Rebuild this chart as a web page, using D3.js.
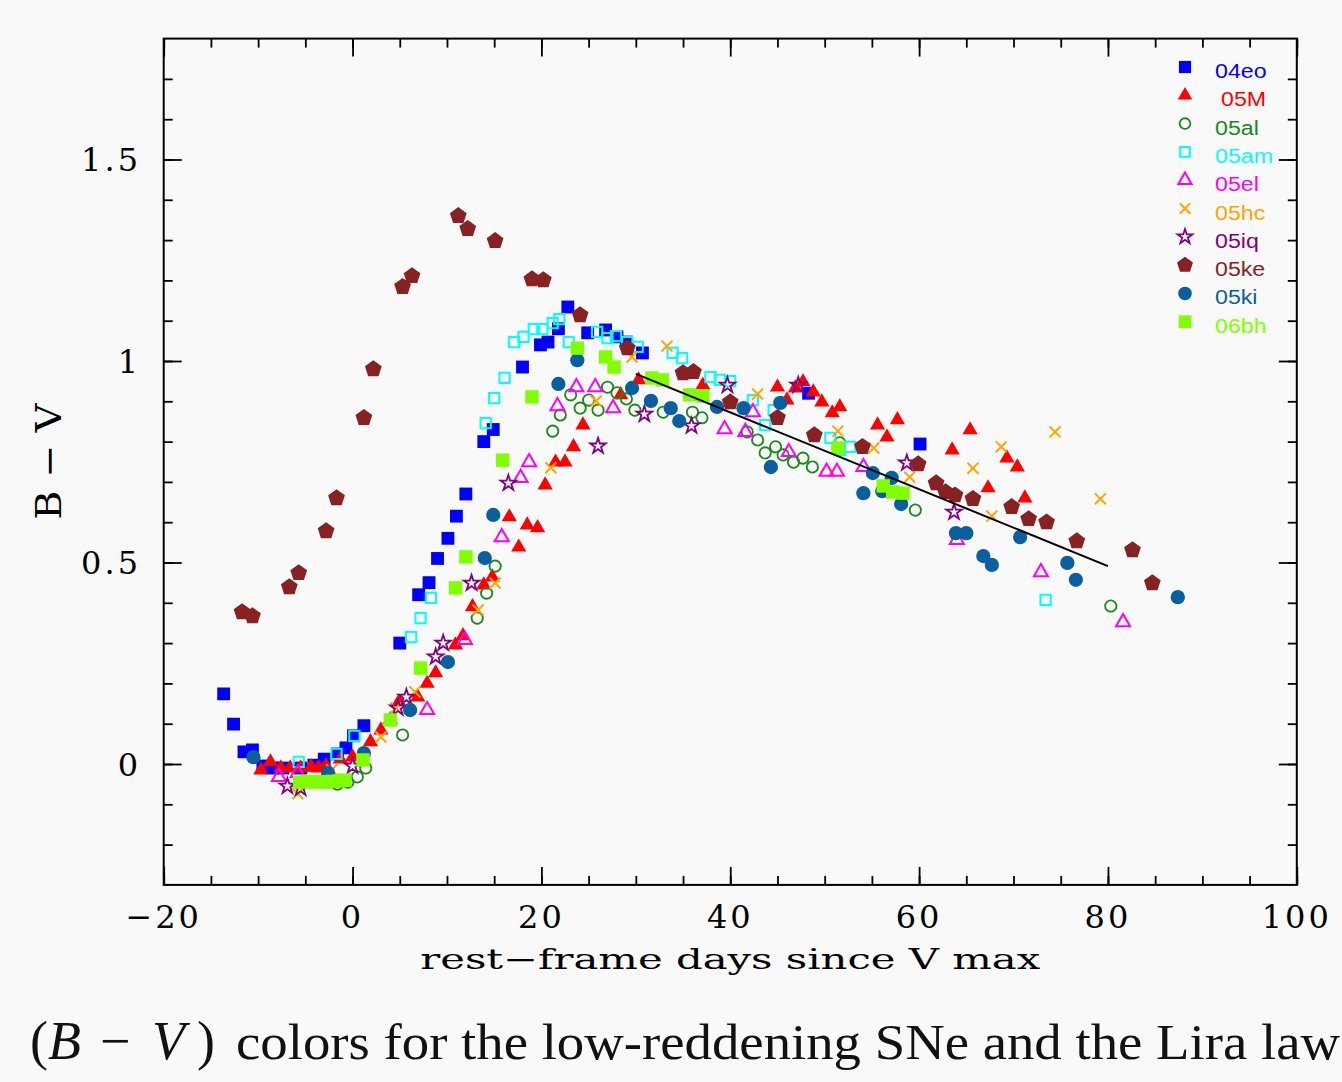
<!DOCTYPE html>
<html>
<head>
<meta charset="utf-8">
<script src="https://cdn.jsdelivr.net/npm/d3@7"></script>
<style>
  html, body { margin: 0; padding: 0; background: #f9f9f9; }
  svg { display: block; }
</style>
</head>
<body>
<svg id="chart" width="1342" height="1082"></svg>
<script>
// B - V colour curves, [rest-frame days since V max, B - V]
const sn04eo = [[-13.65,0.174],[-12.6,0.099],[-11.5,0.030],[-10.6,0.035],[-9.5,-0.005],[-8.5,-0.01],[-7.4,-0.01],
  [-5.5,-0.01],[-4.1,-0.003],[-3.0,0.012],[-1.6,0.025],[-0.7,0.04],[0.1,0.07],[1.2,0.095],[5.0,0.30],[7.0,0.42],
  [8.1,0.45],[9.0,0.51],[10.1,0.56],[11.0,0.615],[12.0,0.67],[13.9,0.80],[14.9,0.83],[18.0,0.985],[19.9,1.04],
  [20.7,1.047],[21.8,1.08],[22.8,1.134],[24.9,1.07],[26.8,1.077],[28.0,1.06],[29.0,1.047],[30.7,1.02],[48.3,0.92],[60.1,0.794]];
const sn05M = [[-9.7,-0.015],[-8.7,0.005],[-7.6,-0.01],[-6.6,-0.01],[-5.5,-0.01],[-4.4,-0.007],[-3.6,-0.01],[-2.8,-0.005],
  [-1.3,0.012],[0.0,0.017],[1.9,0.055],[3.0,0.084],[4.0,0.11],[4.9,0.154],[6.9,0.166],[7.9,0.20],[8.8,0.226],[10.9,0.295],
  [11.7,0.318],[12.7,0.39],[13.9,0.444],[14.8,0.464],[16.6,0.613],[17.6,0.538],[18.5,0.593],[19.6,0.586],[20.4,0.692],
  [21.5,0.749],[22.5,0.749],[23.4,0.787],[24.4,0.841],[28.4,0.916],[30.3,0.953],[37.1,0.94],[45.0,0.935],[46.0,0.903],
  [46.9,0.933],[47.7,0.948],[48.8,0.923],[49.7,0.898],[50.8,0.871],[51.6,0.886],[55.6,0.841],[56.6,0.811],[57.7,0.854],
  [63.5,0.779],[65.4,0.829],[67.3,0.685],[69.3,0.759],[70.4,0.737],[71.2,0.66]];
const sn05al = [[-1.6,-0.05],[-0.5,-0.045],[0.5,-0.032],[1.4,-0.01],[5.3,0.072],[13.2,0.362],[14.2,0.424],[15.1,0.491],
  [21.2,0.826],[22.0,0.866],[23.1,0.916],[24.1,0.883],[25.0,0.903],[26.0,0.878],[27.0,0.935],[28.0,0.921],[29.0,0.906],
  [29.9,0.878],[32.9,0.873],[36.0,0.873],[37.0,0.859],[41.8,0.824],[42.9,0.804],[43.7,0.772],[44.8,0.787],[45.6,0.767],
  [46.7,0.749],[47.7,0.759],[48.7,0.737],[51.6,0.797],[59.6,0.63],[80.3,0.392]];
const sn05am = [[-5.7,0.005],[-1.7,0.025],[0.2,0.07],[6.2,0.315],[7.2,0.362],[8.3,0.412],[14.1,0.846],[15.0,0.908],
  [16.1,0.958],[17.1,1.047],[18.1,1.06],[19.2,1.079],[20.1,1.079],[21.2,1.094],[21.9,1.104],[22.9,1.047],[25.9,1.072],
  [27.0,1.057],[27.9,1.062],[29.1,1.047],[30.2,1.035],[33.9,1.02],[34.9,1.007],[37.9,0.96],[38.9,0.953],[40.0,0.95],
  [42.4,0.903],[43.7,0.841],[44.6,0.878],[50.6,0.809],[51.6,0.779],[52.7,0.787],[73.4,0.407]];
const sn05el = [[-7.8,-0.032],[-5.8,-0.022],[7.9,0.134],[11.9,0.308],[15.8,0.563],[17.8,0.71],[18.7,0.749],[21.7,0.888],
  [23.7,0.935],[25.7,0.935],[27.6,0.883],[39.4,0.831],[41.6,0.824],[42.4,0.873],[46.2,0.774],[50.2,0.725],[51.3,0.725],
  [54.1,0.737],[64.0,0.556],[72.9,0.476],[81.6,0.352]];
const sn05hc = [[-5.8,-0.074],[-2.2,-0.015],[3.0,0.067],[4.6,0.139],[6.6,0.179],[13.3,0.382],[15.1,0.449],[21.0,0.735],
  [25.8,0.901],[29.6,1.01],[33.3,1.037],[42.9,0.918],[51.4,0.826],[55.2,0.784],[59.0,0.712],[65.7,0.734],[67.7,0.615],
  [68.7,0.787],[74.4,0.824],[79.2,0.658]];
const sn05iq = [[-6.9,-0.055],[-5.5,-0.06],[0.0,-0.005],[4.8,0.139],[5.7,0.166],[8.8,0.266],[9.6,0.30],[12.6,0.449],
  [16.5,0.697],[26.0,0.789],[30.9,0.868],[35.9,0.839],[39.7,0.94],[47.2,0.94],[58.7,0.747],[63.7,0.625]];
const sn05ke = [[-11.7,0.377],[-10.6,0.367],[-6.7,0.439],[-5.7,0.474],[-2.8,0.578],[-1.7,0.66],[1.2,0.859],[2.2,0.98],
  [5.3,1.184],[6.3,1.211],[11.2,1.36],[12.2,1.328],[15.1,1.298],[19.0,1.203],[20.2,1.201],[24.1,1.114],[29.1,1.032],
  [35.0,0.97],[36.1,0.973],[40.0,0.898],[45.0,0.859],[48.9,0.816],[54.0,0.787],[59.9,0.744],[61.8,0.697],[62.8,0.675],
  [63.8,0.667],[65.7,0.658],[69.8,0.638],[71.6,0.608],[73.5,0.60],[76.7,0.553],[82.6,0.531],[84.7,0.449]];
const sn05ki = [[-10.5,0.017],[-2.6,-0.022],[1.2,0.027],[6.1,0.134],[10.1,0.253],[14.0,0.511],[14.9,0.618],[21.8,0.943],
  [23.8,1.002],[29.6,0.933],[31.6,0.901],[33.7,0.883],[34.6,0.851],[38.6,0.886],[41.4,0.883],[44.3,0.737],[45.3,0.896],
  [54.1,0.672],[55.1,0.722],[56.1,0.677],[57.1,0.71],[58.1,0.645],[63.9,0.573],[65.0,0.573],[66.8,0.516],[67.7,0.494],
  [70.7,0.563],[75.7,0.499],[76.6,0.457],[87.4,0.414]];
const sn06bh = [[-5.6,-0.045],[-4.9,-0.043],[-4.2,-0.045],[-3.5,-0.044],[-2.8,-0.045],[-2.1,-0.043],[-1.4,-0.042],
  [-0.8,-0.04],[1.1,0.01],[4.0,0.109],[7.2,0.238],[10.9,0.437],[12.0,0.514],[15.9,0.754],[19.0,0.911],[23.8,1.032],
  [26.8,1.01],[27.7,0.985],[31.7,0.958],[32.8,0.953],[35.7,0.916],[37.1,0.913],[51.4,0.784],[56.2,0.69],[57.2,0.675],[58.3,0.672]];

// Lira law segment
const liraLine = [[30.0,0.968],[80.0,0.491]];

const seriesNames = ["04eo","05M","05al","05am","05el","05hc","05iq","05ke","05ki","06bh"];
const seriesValues = [sn04eo, sn05M, sn05al, sn05am, sn05el, sn05hc, sn05iq, sn05ke, sn05ki, sn06bh];
const seriesColors = ["#0000ff","#ff0000","#1a881a","#00ffff","#ff00ff","#ffa500","#800080","#882222","#0a5f9e","#7fff00"];

const xTickLabels = [-20, 0, 20, 40, 60, 80, 100];
const yTickLabels = [0, 0.5, 1, 1.5];

// ---- custom marker shapes ----
const symbolPentagon = {
  draw(ctx, size) {
    const r = Math.sqrt(size / (2.5 * Math.sin(2 * Math.PI / 5)));
    for (let i = 0; i < 5; i++) {
      const a = -Math.PI / 2 + i * 2 * Math.PI / 5;
      const px = r * Math.cos(a), py = r * Math.sin(a);
      if (i === 0) ctx.moveTo(px, py); else ctx.lineTo(px, py);
    }
    ctx.closePath();
  }
};
const symbolX = {
  draw(ctx, size) {
    const h = Math.sqrt(size) / 2;
    ctx.moveTo(-h, -h); ctx.lineTo(h, h);
    ctx.moveTo(h, -h); ctx.lineTo(-h, h);
  }
};

const markerStyles = [
  { type: d3.symbolSquare,   size: 165, filled: true },
  { type: d3.symbolTriangle, size: 100, filled: true },
  { type: d3.symbolCircle,   size: 100, filled: false, sw: 1.8 },
  { type: d3.symbolSquare,   size: 105, filled: false, sw: 2 },
  { type: d3.symbolTriangle, size: 85,  filled: false, sw: 2 },
  { type: symbolX,           size: 120, filled: false, sw: 2 },
  { type: d3.symbolStar,     size: 75,  filled: false, sw: 1.8 },
  { type: symbolPentagon,    size: 185, filled: true },
  { type: d3.symbolCircle,   size: 160, filled: true },
  { type: d3.symbolSquare,   size: 180, filled: true }
];

// stretch a text element horizontally by a factor of its natural width
function widen(sel, factor) {
  sel.each(function () {
    const len = this.getComputedTextLength();
    d3.select(this).attr("textLength", len * factor).attr("lengthAdjust", "spacingAndGlyphs");
  });
}

// ---- layout ----
const svg = d3.select("#chart");
const plot = { left: 163.7, right: 1296.8, top: 38.6, bottom: 884.9 };
const x = d3.scaleLinear().domain([-20, 100]).range([plot.left, plot.right]);
const y = d3.scaleLinear().domain([-0.3, 1.8]).range([plot.bottom, plot.top]);

const tickFont = "'DejaVu Serif', serif";

// minor and major ticks on all four sides, pointing inward
function addAxis(axisFn, scale, values, size, transform) {
  const g = svg.append("g").attr("transform", transform)
    .call(axisFn(scale).tickValues(values).tickSize(size).tickFormat(""));
  g.select(".domain").remove();
  g.selectAll(".tick line").attr("stroke", "#000").attr("stroke-width", 1.8);
  return g;
}
const xMinor = d3.range(-20, 100.01, 5);
const yMinor = d3.range(-0.2, 1.75, 0.1).map(v => +v.toFixed(2));
const yMajor = [0, 0.5, 1, 1.5];
addAxis(d3.axisBottom, x, xMinor, -9, `translate(0,${plot.bottom})`);
addAxis(d3.axisBottom, x, xTickLabels, -18, `translate(0,${plot.bottom})`);
addAxis(d3.axisTop, x, xMinor, -9, `translate(0,${plot.top})`);
addAxis(d3.axisTop, x, xTickLabels, -18, `translate(0,${plot.top})`);
addAxis(d3.axisLeft, y, yMinor, -9, `translate(${plot.left},0)`);
addAxis(d3.axisLeft, y, yMajor, -18, `translate(${plot.left},0)`);
addAxis(d3.axisRight, y, yMinor, -9, `translate(${plot.right},0)`);
addAxis(d3.axisRight, y, yMajor, -18, `translate(${plot.right},0)`);

// frame
svg.append("rect")
  .attr("x", plot.left).attr("y", plot.top)
  .attr("width", plot.right - plot.left).attr("height", plot.bottom - plot.top)
  .attr("fill", "none").attr("stroke", "#000").attr("stroke-width", 2);

// tick labels
svg.append("g").selectAll("text").data(xTickLabels).join("text")
  .attr("x", d => x(d)).attr("y", 928)
  .attr("text-anchor", "middle")
  .attr("font-family", tickFont).attr("font-size", 32)
  .attr("letter-spacing", 3)
  .text(d => d < 0 ? "\u2212" + Math.abs(d) : d);

svg.append("g").selectAll("text").data(yTickLabels).join("text")
  .attr("x", 141).attr("y", d => y(d) + 11.5)
  .attr("text-anchor", "end")
  .attr("font-family", tickFont).attr("font-size", 32)
  .attr("letter-spacing", 3)
  .text(d => d);

// axis titles
svg.append("text")
  .attr("x", x(40)).attr("y", 969)
  .attr("text-anchor", "middle")
  .attr("font-family", tickFont).attr("font-size", 28)
  .attr("textLength", 620).attr("lengthAdjust", "spacingAndGlyphs")
  .text("rest\u2212frame days since V max");

svg.append("text")
  .attr("transform", `translate(61,${(plot.top + plot.bottom) / 2}) rotate(-90)`)
  .attr("text-anchor", "middle")
  .attr("font-family", tickFont).attr("font-size", 35)
  .attr("textLength", 116).attr("lengthAdjust", "spacingAndGlyphs")
  .text("B \u2212 V");

// data markers
svg.append("clipPath").attr("id", "plotclip").append("rect")
  .attr("x", plot.left).attr("y", plot.top)
  .attr("width", plot.right - plot.left).attr("height", plot.bottom - plot.top);

const marks = svg.append("g").attr("clip-path", "url(#plotclip)");
seriesValues.forEach((vals, i) => {
  const st = markerStyles[i];
  const col = seriesColors[i];
  marks.append("g").selectAll("path").data(vals).join("path")
    .attr("transform", d => `translate(${x(d[0])},${y(d[1])})`)
    .attr("d", d3.symbol().type(st.type).size(st.size))
    .attr("fill", st.filled ? col : "none")
    .attr("stroke", st.filled ? "none" : col)
    .attr("stroke-width", st.sw || 0);
});

// Lira law
marks.append("path")
  .datum(liraLine)
  .attr("d", d3.line().x(d => x(d[0])).y(d => y(d[1])))
  .attr("fill", "none").attr("stroke", "#000").attr("stroke-width", 2);

// legend
const legend = svg.append("g");
seriesNames.forEach((name, i) => {
  const st = markerStyles[i];
  const col = seriesColors[i];
  const yy = 67 + i * 28.3;
  legend.append("path")
    .attr("transform", `translate(1185,${yy})`)
    .attr("d", d3.symbol().type(st.type).size(st.size * 0.9))
    .attr("fill", st.filled ? col : "none")
    .attr("stroke", st.filled ? "none" : col)
    .attr("stroke-width", st.sw || 0);
  legend.append("text")
    .attr("x", name === "05M" ? 1221 : 1215).attr("y", yy + 11)
    .attr("font-family", "'Liberation Sans', Arial, sans-serif")
    .attr("font-size", 20.5)
    .attr("fill", col)
    .text(name)
    .call(widen, 1.13);
});

// caption: math part, then the sentence
const capFont = "'Liberation Serif', 'Times New Roman', serif";
const capMath = svg.append("text")
  .attr("y", 1059)
  .attr("font-family", capFont).attr("font-size", 54).attr("fill", "#111");
capMath.append("tspan").attr("x", 30).text("(");
capMath.append("tspan").attr("x", 48).attr("font-style", "italic").text("B");
capMath.append("tspan").attr("x", 100).text("\u2212");
capMath.append("tspan").attr("x", 152).attr("font-style", "italic").text("V");
capMath.append("tspan").attr("x", 197).text(")");

svg.append("text")
  .attr("x", 236).attr("y", 1059)
  .attr("font-family", capFont).attr("font-size", 51).attr("fill", "#111")
  .attr("textLength", 1104).attr("lengthAdjust", "spacingAndGlyphs")
  .text("colors for the low-reddening SNe and the Lira law");
</script>
</body>
</html>
